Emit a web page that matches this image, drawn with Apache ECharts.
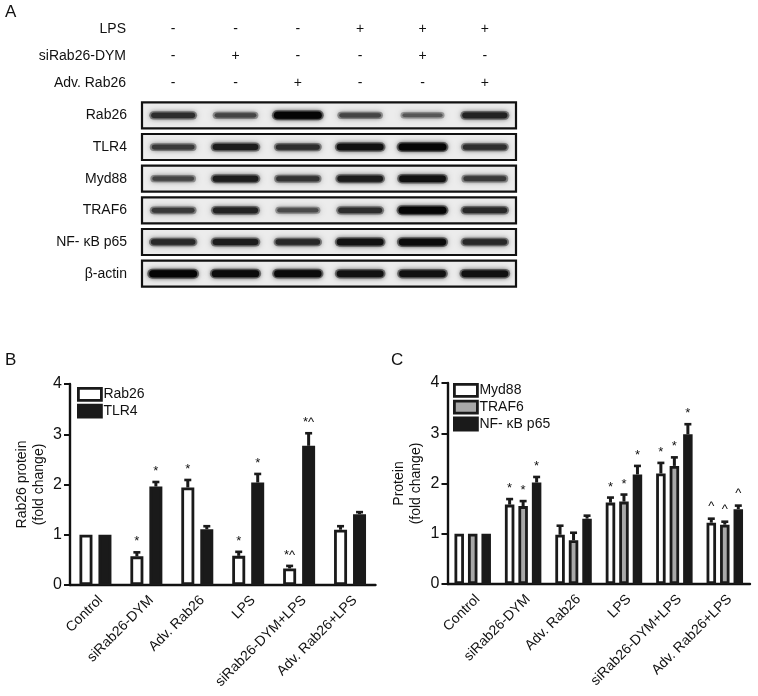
<!DOCTYPE html>
<html><head><meta charset="utf-8">
<style>html,body{margin:0;padding:0;background:#fff}#c{width:758px;height:696px}</style>
<script src="https://cdn.jsdelivr.net/npm/echarts@6/dist/echarts.min.js"></script>
</head><body><div id="c"></div>
<script>
const lanes = ['1','2','3','4','5','6'];
const treatRows = ['LPS','siRab26-DYM','Adv. Rab26'];
const lpsRow   = ['-','-','-','+','+','+'];
const siRow    = ['-','+','-','-','+','-'];
const advRow   = ['-','-','+','-','-','+'];
const blotRows = ['Rab26','TLR4','Myd88','TRAF6','NF- κB p65','β-actin'];
const sigRab26 = [.65,.45,1,.45,.3,.75];
const sigTLR4  = [.55,.8,.65,.9,1,.65];
const sigMyd88 = [.45,.8,.6,.8,.9,.55];
const sigTRAF6 = [.55,.75,.4,.65,1,.7];
const sigNF    = [.7,.8,.7,.9,.95,.7];
const sigActin = [1,.95,.95,.9,.9,.9];

const groups = ['Control','siRab26-DYM','Adv. Rab26','LPS','siRab26-DYM+LPS','Adv. Rab26+LPS'];
const bRab26 = [1,.57,1.94,.58,.33,1.1];
const bRab26Hi = [1,.65,2.09,.66,.38,1.17];
const bRab26Mark = ['','*','*','*','*^',''];
const bTLR4 = [1,1.96,1.11,2.04,2.77,1.41];
const bTLR4Hi = [1,2.05,1.17,2.21,3.02,1.45];
const bTLR4Mark = ['','*','','*','*^',''];
const cMyd88 = [1,1.58,.98,1.62,2.2,1.22];
const cMyd88Hi = [1,1.69,1.16,1.72,2.41,1.3];
const cTRAF6 = [1,1.55,.87,1.64,2.35,1.18];
const cTRAF6Hi = [1,1.65,1.02,1.78,2.52,1.24];
const cP65 = [1,2.02,1.3,2.18,2.98,1.49];
const cP65Hi = [1,2.13,1.36,2.35,3.18,1.56];
const cMark = ['','*','','*','*','^'];

const FONT = 'Liberation Sans';
const INK = '#1a1a1a';
const chart = echarts.init(document.getElementById('c'), null, {renderer:'canvas'});

const series = [];
function table(rowVals, row){
  series.push({type:'custom', xAxisIndex:0, yAxisIndex:0, silent:true,
    data: rowVals.map((v,i)=>[i,row,v]),
    renderItem(p,api){
      const pt = api.coord([api.value(0),api.value(1)]);
      return {type:'text', style:{x:pt[0],y:pt[1],text:rowVals[p.dataIndex],fill:'#111',font:'14px '+FONT,textAlign:'center',textVerticalAlign:'middle'}};
    }});
}
table(lpsRow,0); table(siRow,1); table(advRow,2);

series.push({type:'custom', xAxisIndex:1, yAxisIndex:1, silent:true, z:1,
  data: blotRows.map((r,i)=>[0,i]),
  renderItem(p,api){
    const pt = api.coord([0,api.value(1)]);
    const h = api.size([0,1])[1]*0.82;
    return {type:'rect', shape:{x:p.coordSys.x,y:pt[1]-h/2,width:p.coordSys.width,height:h},
      style:{fill:'#ececec',stroke:'#111',lineWidth:2.2}};
  }});
function blot(sig,row){
  series.push({type:'custom', xAxisIndex:1, yAxisIndex:1, silent:true, z:2,
    data: sig.map((s,i)=>[i,row,s]),
    renderItem(p,api){
      const pt = api.coord([api.value(0),api.value(1)]);
      const s = api.value(2), lw = api.size([1,0])[0];
      const w = lw*(.62+.18*s), h = 2+5*s;
      const g = Math.round(120-115*s), col = `rgb(${g},${g},${g})`;
      const halo = `rgba(${g},${g},${g},0.45)`;
      const box = (ww,hh)=>({x:pt[0]-ww/2,y:pt[1]-hh/2,width:ww,height:hh,r:hh/2});
      return {type:'group',children:[
        {type:'rect',shape:box(w+2,h+3),style:{fill:halo,shadowBlur:7,shadowColor:halo}},
        {type:'rect',shape:box(w-2,h),style:{fill:col,shadowBlur:4,shadowColor:col}}
      ]};
    }});
}
[sigRab26,sigTLR4,sigMyd88,sigTRAF6,sigNF,sigActin].forEach(blot);

function bars(name,vals,hi,marks,ax,off,bw,gap,fill,capW){
  series.push({name,type:'bar',xAxisIndex:ax,yAxisIndex:ax,data:vals,barWidth:bw,barGap:gap,z:3,
    itemStyle:{color:fill,borderColor:INK,borderWidth:2.8},silent:true});
  series.push({type:'custom',xAxisIndex:ax,yAxisIndex:ax,silent:true,z:4,clip:false,
    data:vals.map((v,i)=>[i,v,hi[i]]),
    renderItem(p,api){
      const i=api.value(0), a=api.coord([i,api.value(1)]), b=api.coord([i,api.value(2)]);
      const x=a[0]+off, kids=[];
      if(api.value(2)>api.value(1)){
        kids.push({type:'line',shape:{x1:x,y1:a[1],x2:x,y2:b[1]},style:{stroke:INK,lineWidth:3}});
        kids.push({type:'line',shape:{x1:x-capW/2,y1:b[1],x2:x+capW/2,y2:b[1]},style:{stroke:INK,lineWidth:2.6}});
      }
      const m=marks[p.dataIndex];
      if(m) kids.push({type:'text',style:{x:x,y:b[1]-(m==='^'?6:4),text:m,fill:'#111',font:'13px '+FONT,textAlign:'center',textVerticalAlign:'bottom'}});
      return {type:'group',children:kids};
    }});
}
const W='#fff', K=INK, G='#a8a8a8';
bars('Rab26',bRab26,bRab26Hi,bRab26Mark,2,-9.5,13,'46%',W,7);
bars('TLR4',bTLR4,bTLR4Hi,bTLR4Mark,2,9.5,13,'46%',K,7);
bars('Myd88',cMyd88,cMyd88Hi,cMark,3,-13.5,9.5,'42%',W,7);
bars('TRAF6',cTRAF6,cTRAF6Hi,cMark,3,0,9.5,'42%',G,7);
bars('NF- κB p65',cP65,cP65Hi,cMark,3,13.5,9.5,'42%',K,7);

const axLine={show:true,onZero:false,lineStyle:{color:'#111',width:2.4}};
function catAxis(gi){return {type:'category',gridIndex:gi,data:groups,axisTick:{show:false},axisLine:axLine,
  axisLabel:{rotate:45,interval:0,margin:18,padding:[0,-7,0,0],color:'#111',fontFamily:FONT,fontSize:14}};}
function valAxis(gi,name,gap){return {type:'value',gridIndex:gi,min:0,max:4,interval:1,name,nameLocation:'middle',nameGap:gap,nameRotate:90,
  nameTextStyle:{color:'#111',fontFamily:FONT,fontSize:14,lineHeight:17},
  splitLine:{show:false},axisLine:axLine,axisTick:{show:true,length:6,lineStyle:{color:'#111',width:2}},
  axisLabel:{margin:8,color:'#111',fontFamily:FONT,fontSize:16}};}
function legend(names,left,top){return {left,top,orient:'vertical',icon:'rect',itemWidth:23,itemHeight:12,itemGap:2,
  data:names,selectedMode:false,itemStyle:{borderWidth:2.8},textStyle:{color:'#111',fontFamily:FONT,fontSize:14,padding:[0,0,0,-3]},padding:0};}

chart.setOption({
  animation:false, backgroundColor:'#fff',
  title:[['A',5,4],['B',5,352],['C',391,352]].map(t=>({text:t[0],left:t[1],top:t[2],padding:0,textStyle:{color:'#111',fontFamily:FONT,fontSize:17,fontWeight:'normal'}})),
  grid:[
    {left:142,width:374,top:16,height:81,outerBoundsMode:'none'},
    {left:142,width:374,top:99.5,height:190,outerBoundsMode:'none'},
    {left:70,width:305.5,top:384,height:201,outerBoundsMode:'none'},
    {left:447.5,width:302.5,top:383,height:201,outerBoundsMode:'none'}
  ],
  xAxis:[
    {type:'category',gridIndex:0,data:lanes,show:false},
    {type:'category',gridIndex:1,data:lanes,show:false},
    catAxis(2),catAxis(3)
  ],
  yAxis:[
    {type:'category',gridIndex:0,inverse:true,data:treatRows,axisLine:{show:false},axisTick:{show:false},axisLabel:{margin:16,color:'#111',fontFamily:FONT,fontSize:14}},
    {type:'category',gridIndex:1,inverse:true,data:blotRows,axisLine:{show:false},axisTick:{show:false},axisLabel:{margin:15,color:'#111',fontFamily:FONT,fontSize:14}},
    valAxis(2,'Rab26 protein\n(fold change)',22),valAxis(3,'Protein\n(fold change)',23)
  ],
  legend:[legend(['Rab26','TLR4'],77,387),legend(['Myd88','TRAF6','NF- κB p65'],453,383)],
  series
});
</script></body></html>
